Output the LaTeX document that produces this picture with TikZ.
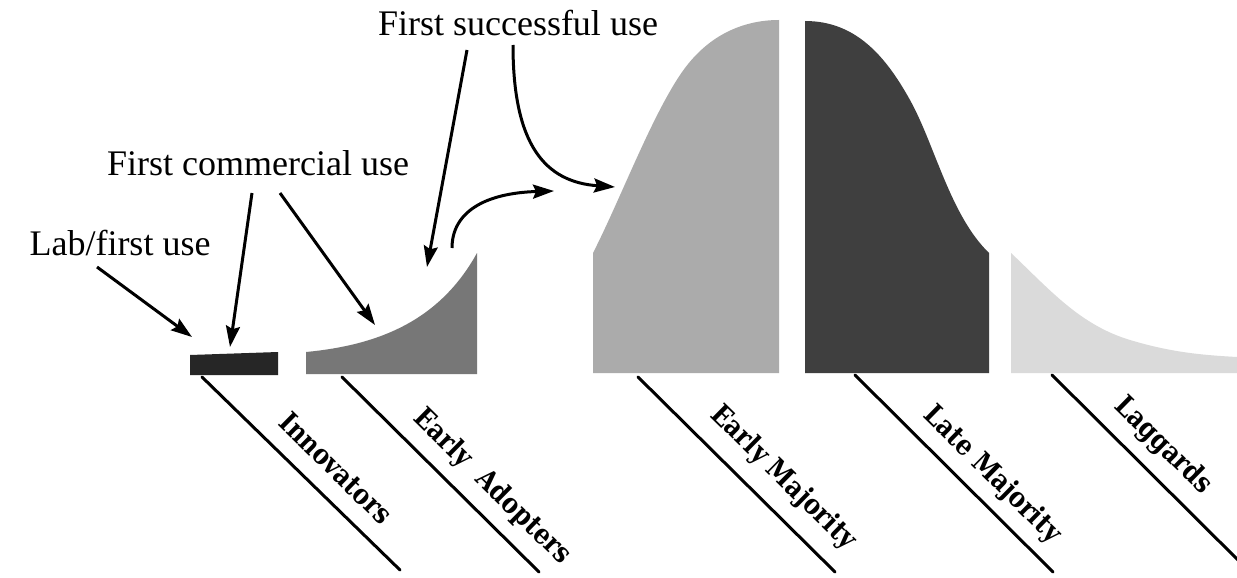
\documentclass[tikz,border=0pt]{standalone}
\usepackage{fontspec}
\setmainfont{Liberation Serif}
\newfontfamily\lblfont[FakeStretch=0.86]{DejaVu Serif}
\usetikzlibrary{arrows.meta}
\definecolor{cInno}{HTML}{262626}
\definecolor{cEA}{HTML}{777777}
\definecolor{cEM}{HTML}{ABABAB}
\definecolor{cLM}{HTML}{3F3F3F}
\definecolor{cLag}{HTML}{DADADA}
\tikzset{
  toplabel/.style={inner sep=0pt, anchor=base, font=\fontsize{36}{40}\selectfont},
  catlabel/.style={inner sep=0pt, anchor=center, rotate=-44.5, font=\lblfont\bfseries\fontsize{28}{30}\selectfont},
  catline/.style={line width=3pt, line cap=round},
  pointer/.style={line width=3pt, -{Stealth[length=21pt,width=14pt,inset=3pt]}},
}
\begin{document}
\begin{tikzpicture}[x=1pt,y=-1pt]
\useasboundingbox (0,0) rectangle (1237,578);
\fill[white] (0,0) rectangle (1237,578);
\clip (0,0) rectangle (1237,578);
% curve segments
\fill[cInno] (190,355) -- (278,352) -- (278,375) -- (190,375) -- cycle;
\fill[cEA] (306,352) .. controls (380,345) and (440,320) .. (477,253) -- (477,374) -- (306,374) -- cycle;
\fill[cEM] (593,373) -- (593,253) .. controls (620,200) and (650,120) .. (680,75) .. controls (710,30) and (750,20) .. (779,20) -- (779,373) -- cycle;
\fill[cLM] (805,21) .. controls (855,21) and (885,55) .. (910,100) .. controls (935,145) and (950,215) .. (989,253) -- (989,373) -- (805,373) -- cycle;
\fill[cLag] (1011,253) .. controls (1050,290) and (1080,325) .. (1130,340) .. controls (1170,352) and (1200,355) .. (1237,357) -- (1237,373) -- (1011,373) -- cycle;
% category lines
\coordinate (i1) at (202,377); \coordinate (i2) at (400,570);
\coordinate (a1) at (342,377); \coordinate (a2) at (539,572);
\coordinate (e1) at (638,377); \coordinate (e2) at (835,572);
\coordinate (l1) at (855,375); \coordinate (l2) at (1053,572);
\coordinate (g1) at (1052,375); \coordinate (g2) at (1245,567);
\draw[catline] (i1) -- (i2);
\draw[catline] (a1) -- (a2);
\draw[catline] (e1) -- (e2);
\draw[catline] (l1) -- (l2);
\draw[catline] (g1) -- (g2);
\node[catlabel] (tInno) at (336,468) {Innovators};
\node[catlabel] (tEA) at (492,487) {Early\ \ Adopters};
\node[catlabel] (tEM) at (783,478) {Early Majority};
\node[catlabel] (tLM) at (992,475) {Late Majority};
\node[catlabel] (tLag) at (1163,446) {Laggards};
% top labels
\node[toplabel] (lab) at (120,255) {Lab/first use};
\node[toplabel] (com) at (258,175) {First commercial use};
\node[toplabel] (suc) at (518,36) {First successful use};
% arrow end points
\coordinate (labS) at (97,267);
\coordinate (labT) at (192,337);
\coordinate (com1S) at (252,193);
\coordinate (com1T) at (230,347);
\coordinate (com2S) at (280,193);
\coordinate (com2T) at (375,325);
\coordinate (suc1S) at (467,50);
\coordinate (suc1T) at (427,267);
\coordinate (suc2S) at (513,45);
\coordinate (suc2T) at (615,187);
\coordinate (eaS) at (452,248);
\coordinate (eaT) at (554,191);
\draw[pointer] (labS) -- (labT);
\draw[pointer] (com1S) -- (com1T);
\draw[pointer] (com2S) -- (com2T);
\draw[pointer] (suc1S) -- (suc1T);
\draw[pointer] (suc2S) .. controls (513,145) and (545,182) .. (suc2T);
\draw[pointer] (eaS) .. controls (452,212) and (485,193) .. (eaT);
\end{tikzpicture}
\end{document}
